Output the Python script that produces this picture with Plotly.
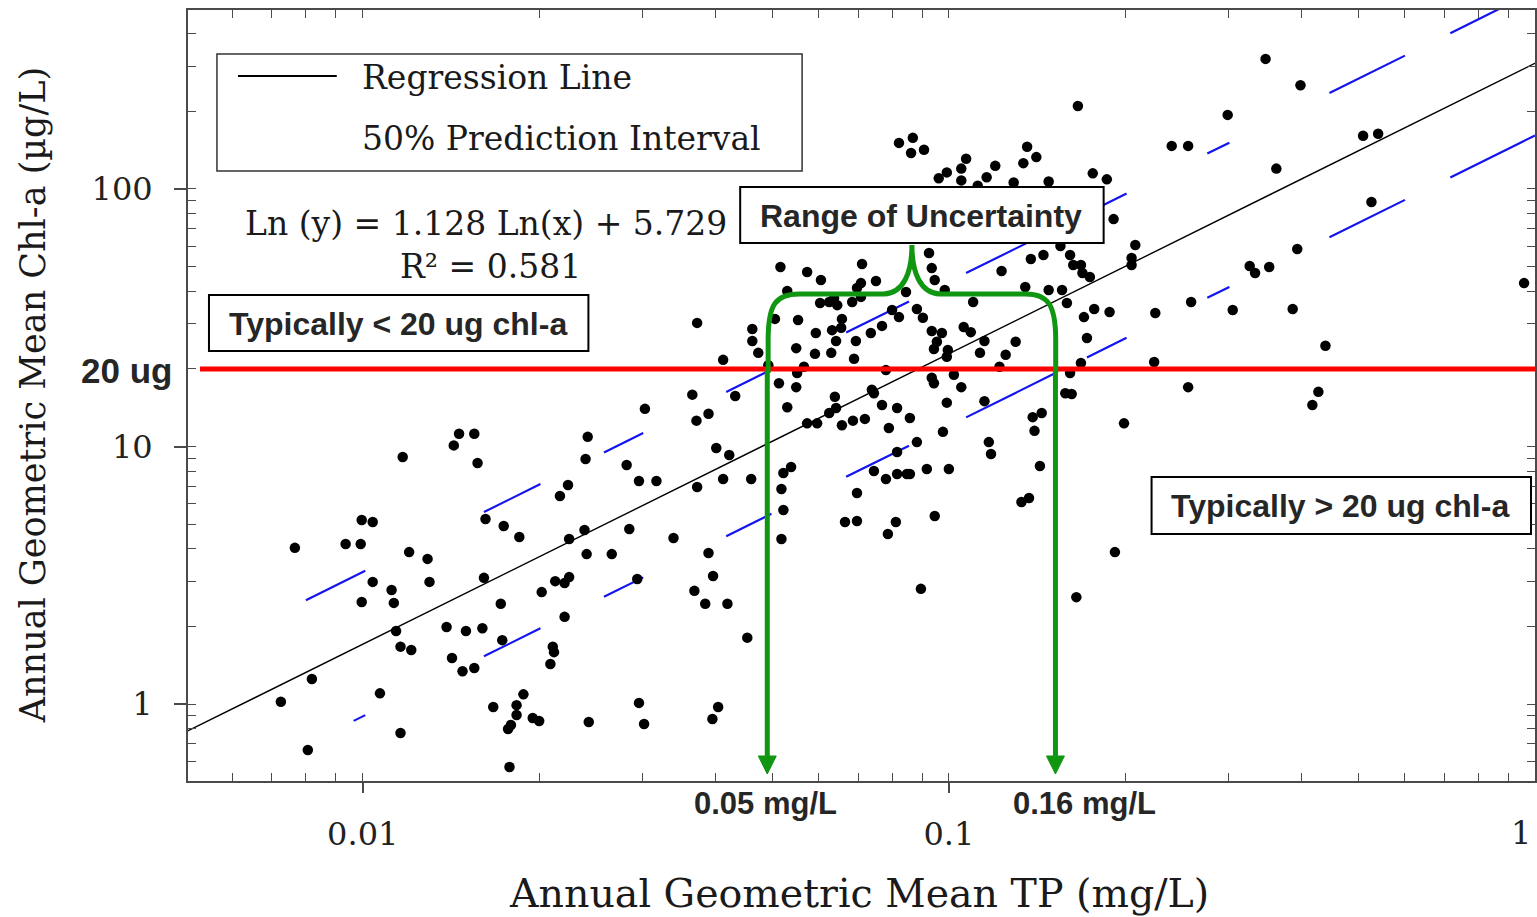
import math
import plotly.graph_objects as go

# ---------------- data ----------------
tp_mg_l = [
    0.00725, 0.00806, 0.00819, 0.00766, 0.00935, 0.00992, 0.00996, 0.0104, 0.0104, 0.0112,
    0.00996, 0.0113, 0.0107, 0.0116, 0.0114, 0.0116, 0.0121, 0.0117, 0.0120, 0.0129,
    0.0130, 0.0139, 0.0142, 0.0148, 0.0155, 0.0150, 0.0160, 0.0146, 0.0155, 0.0143,
    0.0157, 0.0162, 0.0161,
    0.0365, 0.0303, 0.0371, 0.0389, 0.0242, 0.0240, 0.0282, 0.0224, 0.0217, 0.0296,
    0.0317, 0.0372, 0.0174, 0.0185, 0.0225, 0.0239, 0.0285, 0.0339, 0.0241, 0.0266,
    0.0389, 0.0213, 0.0221, 0.0225, 0.0202, 0.0172, 0.0294, 0.0368, 0.0384, 0.0221,
    0.0173, 0.0211, 0.0212, 0.0209, 0.0188, 0.0167, 0.0183, 0.0183, 0.0179, 0.0177,
    0.0195, 0.0200, 0.0243, 0.0296, 0.0302, 0.0395, 0.0404, 0.0178,
    0.0401, 0.0422, 0.0412, 0.0460, 0.0538, 0.0522, 0.0518, 0.0522, 0.0518, 0.0396,
    0.0419, 0.0453, 0.0697, 0.0665, 0.0697, 0.0812, 0.0787, 0.0745, 0.0781, 0.0816,
    0.0816, 0.0848,
    0.0516, 0.0573, 0.0605, 0.0711, 0.0751, 0.0708, 0.0697, 0.0530, 0.0845, 0.0603,
    0.0625, 0.0645, 0.0684, 0.0708, 0.0637, 0.0372, 0.0462, 0.0505, 0.0553, 0.0657,
    0.0632, 0.0593, 0.0655, 0.0736, 0.0769, 0.0800, 0.0822, 0.0462, 0.0642, 0.0694,
    0.0473, 0.0549, 0.0591, 0.0630, 0.0689, 0.0412, 0.0492, 0.0566, 0.0551, 0.0781,
    0.0513, 0.0549, 0.0432, 0.0639, 0.0530, 0.0769, 0.0816, 0.0739, 0.0745, 0.0642,
    0.0625, 0.0573, 0.0596, 0.0657, 0.0686, 0.0719, 0.0790,
    0.0868, 0.0862, 0.0907, 0.0822, 0.136, 0.141, 0.134, 0.107, 0.0992, 0.105,
    0.120, 0.0961, 0.105, 0.116, 0.129, 0.148, 0.176, 0.186, 0.112, 0.191,
    0.208, 0.205, 0.205, 0.0925, 0.0935, 0.0946, 0.0984, 0.110, 0.123, 0.138,
    0.145, 0.155, 0.161, 0.163, 0.168, 0.169, 0.174, 0.135, 0.148, 0.156,
    0.159, 0.170, 0.177, 0.188, 0.172, 0.168, 0.0882, 0.0903, 0.0935, 0.0973,
    0.0954, 0.0943, 0.0996, 0.0992, 0.106, 0.109, 0.115, 0.130, 0.113, 0.125,
    0.122, 0.166,
    0.161, 0.102, 0.0935, 0.0943, 0.105, 0.0858, 0.0992, 0.115, 0.158, 0.162,
    0.139, 0.144, 0.140, 0.0977, 0.0882, 0.117, 0.118, 0.199, 0.0858, 0.0917,
    0.100, 0.0946, 0.143, 0.133, 0.137, 0.192, 0.0896, 0.165,
    0.347, 0.398, 0.299, 0.240, 0.256, 0.362, 0.509, 0.540, 0.526, 0.326,
    0.333, 0.352, 0.393, 0.958, 0.259, 0.225, 0.305, 0.386, 0.439, 0.224,
    0.256, 0.427, 0.417,
]
chl_ug_l = [
    1.02, 0.663, 1.25, 4.04, 4.18, 4.18, 5.18, 5.09, 2.98, 2.77,
    2.49, 2.47, 1.10, 0.772, 1.92, 1.67, 1.62, 9.10, 3.89, 3.66,
    2.98, 1.99, 1.51, 1.34, 1.38, 1.92, 1.97, 11.2, 11.2, 10.1,
    8.63, 5.23, 3.09,
    15.9, 14.0, 12.6, 13.4, 10.9, 8.94, 8.48, 7.09, 6.42, 7.35,
    7.35, 6.96, 4.91, 4.45, 4.37, 4.74, 4.78, 4.41, 3.82, 3.82,
    3.86, 3.00, 2.95, 3.11, 2.72, 2.45, 3.06, 2.75, 2.45, 2.18,
    1.77, 1.67, 1.59, 1.43, 1.09, 0.973, 0.99, 0.906, 0.829, 0.80,
    0.882, 0.859, 0.851, 1.01, 0.836, 0.874, 0.973, 0.569,
    9.87, 9.27, 7.48, 7.48, 8.32, 7.89, 6.84, 5.67, 4.37, 3.14,
    2.45, 1.81, 6.60, 5.09, 5.14, 5.09, 4.57, 8.03, 7.48, 7.82,
    9.52, 7.82,
    49.8, 47.6, 44.3, 51.1, 43.9, 43.1, 41.3, 40.2, 39.8, 36.1,
    36.4, 35.4, 36.4, 38.1, 37.7, 30.2, 28.6, 31.3, 31.0, 31.3,
    28.3, 27.6, 28.9, 27.6, 29.4, 33.9, 31.8, 25.7, 25.7, 25.7,
    23.1, 24.1, 22.9, 23.1, 21.9, 21.7, 20.7, 20.4, 19.3, 19.8,
    17.6, 17.0, 15.7, 15.6, 14.2, 14.5, 14.1, 16.6, 16.1, 14.1,
    13.5, 12.3, 12.3, 12.1, 12.6, 12.8, 11.8,
    158, 138, 142, 151, 146, 133, 126, 131, 116, 120,
    123, 110, 108, 111, 106, 107, 115, 109, 103, 76.4,
    60.6, 54.0, 50.7, 56.4, 49.3, 44.3, 40.5, 36.4, 48.0, 53.5,
    55.4, 60.1, 55.4, 50.7, 50.7, 47.2, 45.5, 41.6, 40.5, 40.5,
    36.1, 31.8, 34.2, 33.3, 26.4, 21.1, 34.2, 31.6, 28.1, 27.6,
    25.5, 23.9, 23.7, 22.3, 29.1, 27.8, 25.7, 25.5, 23.1, 22.7,
    20.4, 210,
    19.3, 19.0, 18.5, 17.6, 17.0, 12.9, 14.8, 15.0, 16.1, 16.0,
    13.0, 13.5, 11.5, 11.4, 10.4, 10.4, 9.35, 12.3, 7.82, 8.18,
    8.18, 5.37, 8.40, 6.09, 6.31, 3.89, 2.80, 2.60,
    320, 253, 194, 147, 147, 120, 161, 164, 89.0, 50.2,
    47.2, 49.8, 58.5, 43.1, 36.4, 33.0, 33.9, 34.2, 24.6, 21.3,
    17.0, 16.3, 14.5,
]

reg_slope = 1.128
reg_intercept = 5.729
r_squared = 0.581
pi_half_width_ln = 0.645          # 50% prediction interval half width (ln units)
# TP ranges over which the dashed interval lines are drawn (as seen in the chart)
pi_upper_segments = [(0.0080, 0.0101), (0.0161, 0.0201), (0.0258, 0.0301), (0.0417, 0.0498),
                     (0.0668, 0.0855), (0.107, 0.152), (0.172, 0.201), (0.276, 0.301),
                     (0.446, 0.600), (0.717, 1.0)]
pi_lower_segments = [(0.00965, 0.0101), (0.0161, 0.0201), (0.0258, 0.0301), (0.0417, 0.0498),
                     (0.0668, 0.0855), (0.107, 0.152), (0.172, 0.201), (0.276, 0.301),
                     (0.446, 0.600), (0.717, 1.0)]
threshold_chl = 20
uncertainty_tp = [0.049, 0.152]
uncertainty_labels = ["0.05 mg/L", "0.16 mg/L"]
x_tick_vals = [0.01, 0.1, 1]
x_tick_text = ["0.01", "0.1", "1"]
y_tick_vals = [1, 10, 100]
y_tick_text = ["1", "10", "100"]

# ---------------- layout geometry ----------------
W, H = 1537, 917
ML, MR, MT, MB = 188, 0, 10, 136
PW, PH = W - ML - MR, H - MT - MB
XR = [-2.2981, 0.0]
YR = [-0.299, 2.6951]


def pxx(p):
    return (p - ML) / PW


def pxy(p):
    return (H - MB - p) / PH


def dx(v):
    return (math.log10(v) - XR[0]) / (XR[1] - XR[0])


def dy(v):
    return (math.log10(v) - YR[0]) / (YR[1] - YR[0])


def reg(x, k=0.0):
    return math.exp(reg_slope * math.log(x) + reg_intercept + k)


fig = go.Figure()

# regression line
rx = [0.0045, 1.05]
fig.add_trace(go.Scatter(x=rx, y=[reg(v) for v in rx], mode="lines",
                         line=dict(color="black", width=1.4), hoverinfo="skip"))

# prediction interval (dashed segments)
for segs, k in ((pi_upper_segments, pi_half_width_ln), (pi_lower_segments, -pi_half_width_ln)):
    xs, ys = [], []
    for a, b in segs:
        xs += [a, b, None]
        ys += [reg(a, k), reg(b, k), None]
    fig.add_trace(go.Scatter(x=xs, y=ys, mode="lines", connectgaps=False,
                             line=dict(color="#1414f0", width=2.2), hoverinfo="skip"))

# points
fig.add_trace(go.Scatter(x=tp_mg_l, y=chl_ug_l, mode="markers",
                         marker=dict(color="black", size=10.5, line=dict(width=0))))

# invisible trace so the overlaid tick axes are rendered
fig.add_trace(go.Scatter(x=[0.1], y=[10], xaxis="x2", yaxis="y2", mode="markers",
                         marker=dict(opacity=0), hoverinfo="skip"))

AX = "#4a4a4a"
tickfont = dict(family="DejaVu Serif", size=32, color="#222")
minor_x = [m * 10 ** e for e in (-3, -2, -1) for m in range(2, 10) if 0.005 <= m * 10 ** e <= 1]
minor_y = [m * 10 ** e for e in (-1, 0, 1, 2) for m in range(2, 10) if 0.5 <= m * 10 ** e <= 490]

fig.update_layout(
    width=W, height=H,
    margin=dict(l=ML, r=MR, t=MT, b=MB, pad=0),
    paper_bgcolor="white", plot_bgcolor="white",
    showlegend=False,
    xaxis=dict(type="log", range=XR, tickmode="array", tickvals=x_tick_vals[:-1],
               ticktext=x_tick_text[:-1],
               ticks="outside", ticklen=10, tickwidth=1.5, tickcolor=AX,
               showline=True, linecolor=AX, linewidth=1.8, mirror=True,
               showgrid=False, zeroline=False, tickfont=tickfont, ticklabelstandoff=14),
    yaxis=dict(type="log", range=YR, tickmode="array", tickvals=y_tick_vals, ticktext=y_tick_text,
               ticks="outside", ticklen=12, tickwidth=1.5, tickcolor=AX,
               showline=True, linecolor=AX, linewidth=1.8, mirror=True,
               showgrid=False, zeroline=False, tickfont=tickfont, ticklabelstandoff=15),
    xaxis2=dict(type="log", range=XR, overlaying="x", anchor="y", side="bottom",
                tickmode="array", tickvals=minor_x + x_tick_vals, ticks="inside", ticklen=8,
                tickwidth=1.3, tickcolor=AX, mirror="ticks", showline=False,
                showticklabels=False, showgrid=False, zeroline=False),
    yaxis2=dict(type="log", range=YR, overlaying="y", anchor="x", side="left",
                tickmode="array", tickvals=minor_y + y_tick_vals, ticks="inside", ticklen=8,
                tickwidth=1.3, tickcolor=AX, mirror="ticks", showline=False,
                showticklabels=False, showgrid=False, zeroline=False),
)

GREEN = "rgb(16,150,16)"
shapes = []
# threshold line
shapes.append(dict(type="line", xref="paper", yref="paper", x0=pxx(200), x1=1.0,
                   y0=dy(threshold_chl), y1=dy(threshold_chl), line=dict(color="#ff0000", width=5)))
# green arrows
for v in uncertainty_tp:
    xp = dx(v)
    shapes.append(dict(type="line", xref="paper", yref="paper", x0=xp, x1=xp,
                       y0=dy(threshold_chl), y1=pxy(758), line=dict(color=GREEN, width=5)))
    hw = 9 / PW
    path = f"M {xp - hw},{pxy(756)} L {xp + hw},{pxy(756)} L {xp},{pxy(774)} Z"
    shapes.append(dict(type="path", xref="paper", yref="paper", path=path,
                       fillcolor=GREEN, line=dict(color=GREEN, width=1)))

# curly brace (page pixel coords)
xl, xr_ = 769, 1057
brace_pts = [("M", [(xl, 373)]), ("L", [(xl, 340)]), ("C", [(xl, 305), (776, 294), (800, 294)]),
             ("L", [(885, 294)]), ("C", [(905, 293), (913, 272), (913, 245)]),
             ("C", [(913, 272), (921, 293), (941, 294)]), ("L", [(1027, 294)]),
             ("C", [(1050, 294), (xr_, 306), (xr_, 340)]), ("L", [(xr_, 373)])]
path = " ".join(cmd + " " + " ".join(f"{pxx(a):.5f},{pxy(b):.5f}" for a, b in pts)
                for cmd, pts in brace_pts)
shapes.append(dict(type="path", xref="paper", yref="paper", path=path,
                   line=dict(color=GREEN, width=5)))


def box(x0, y0, x1, y1, w=2, c="black"):
    return dict(type="rect", xref="paper", yref="paper", x0=pxx(x0), x1=pxx(x1),
                y0=pxy(y1), y1=pxy(y0), fillcolor="white", line=dict(color=c, width=w))


# legend box
shapes.append(box(217, 54, 803, 171, w=1.5, c="#333"))
shapes.append(dict(type="line", xref="paper", yref="paper", x0=pxx(238), x1=pxx(337),
                   y0=pxy(76), y1=pxy(76), line=dict(color="black", width=2)))
# text boxes
shapes.append(box(209, 295, 589, 351))
shapes.append(box(741, 187, 1105, 243))
shapes.append(box(1153, 477, 1533, 534))
fig.update_layout(shapes=shapes)

serif = "DejaVu Serif"
sans = "Liberation Sans, Arial"
TXT = "#262626"


def ann(text, x, y, size, family, xanchor="center", color="#1a1a1a", angle=0, bold=False):
    if bold:
        text = f"<b>{text}</b>"
    return dict(text=text, x=pxx(x), y=pxy(y), xref="paper", yref="paper", showarrow=False,
                xanchor=xanchor, yanchor="middle", textangle=angle,
                font=dict(family=family, size=size, color=color))


annotations = [
    ann("Regression Line", 360, 77, 33, serif, "left"),
    ann("50% Prediction Interval", 360, 139, 33, serif, "left"),
    ann(f"Ln (y) = {reg_slope} Ln(x) + {reg_intercept}", 243, 223, 33, serif, "left"),
    ann(f"R² = {r_squared}", 398, 266, 33, serif, "left"),
    ann("Typically &lt; 20 ug chl-a", 398, 324, 32, sans, color=TXT, bold=True),
    ann("Range of Uncertainty", 922, 216, 32, sans, color=TXT, bold=True),
    ann("Typically &gt; 20 ug chl-a", 1342, 506, 32, sans, color=TXT, bold=True),
    ann(uncertainty_labels[0], 766, 804, 31, sans, color=TXT, bold=True),
    ann(uncertainty_labels[1], 1086, 804, 31, sans, color=TXT, bold=True),
    ann(f"{threshold_chl} ug", 126, 370, 35, sans, color=TXT, bold=True),
    ann("Annual Geometric Mean TP (mg/L)", 860, 893, 39.5, serif),
    ann("Annual Geometric Mean Chl-a (µg/L)", 33, 395, 35, serif, angle=-90),
    # right-most tick label sits at the page edge; kept fully inside the page
    dict(text=x_tick_text[-1], x=1.0, xshift=-2, y=pxy(833), xref="paper", yref="paper",
         showarrow=False, xanchor="right", yanchor="middle", font=tickfont),
]
fig.update_layout(annotations=annotations)

fig.write_html("out.html", config={"displayModeBar": False},
               post_script="document.body.style.margin='0px';")
